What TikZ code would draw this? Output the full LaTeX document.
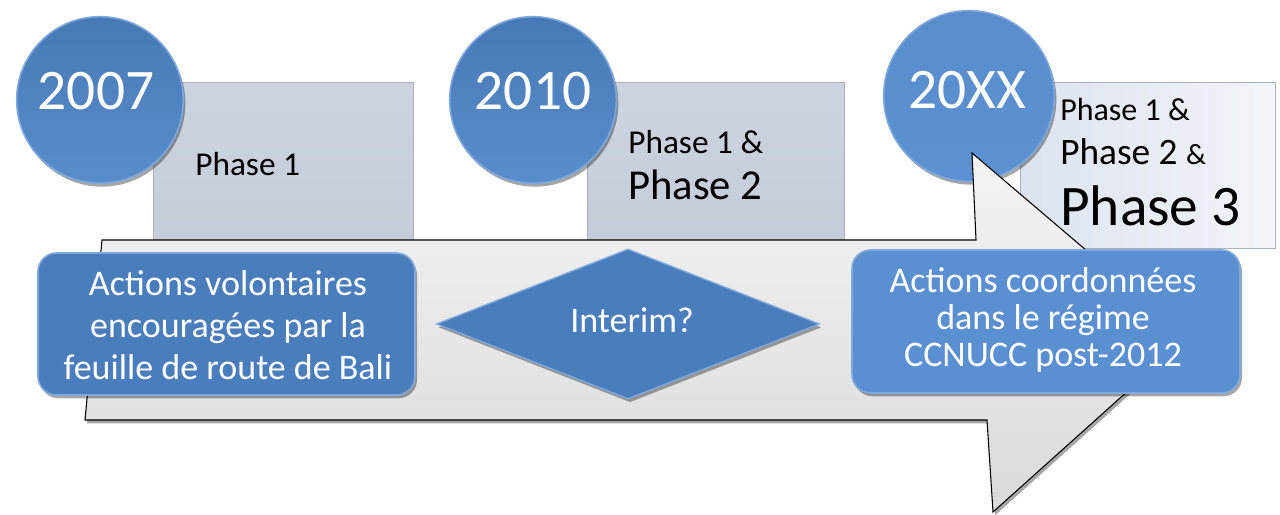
\documentclass[tikz,border=0pt]{standalone}
\usepackage{fontspec}
\setmainfont{Carlito}
\usetikzlibrary{shapes.geometric,shadows,calc}
\definecolor{circA}{HTML}{4779B6}
\definecolor{circB}{HTML}{5A8DCC}
\definecolor{circC}{HTML}{5B91D2}
\definecolor{rimA}{HTML}{7FA9DC}
\definecolor{boxA}{HTML}{C4CCD9}
\definecolor{boxB}{HTML}{CDD4DF}
\definecolor{boxC}{HTML}{DCE3EE}
\definecolor{boxD}{HTML}{F3F5F9}
\definecolor{boxEdge}{HTML}{A9B1BD}
\definecolor{arrA}{HTML}{F4F4F4}
\definecolor{arrB}{HTML}{DADADA}
\definecolor{blueL}{HTML}{4A7DBB}
\definecolor{blueR}{HTML}{5A90D1}
\begin{document}
\begin{tikzpicture}[x=0.75pt,y=-0.75pt,
  shadowed/.style={drop shadow={shadow xshift=1.5pt,shadow yshift=-2.5pt,opacity=0.35,fill=black}},
  phasebox/.style={draw=boxEdge,line width=0.6pt,top color=boxB,bottom color=boxA,inner sep=0pt},
  phaseboxlight/.style={draw=boxEdge,line width=0.6pt,left color=boxC,right color=boxD,inner sep=0pt},
  yearcircle/.style={circle,draw=rimA,line width=1.2pt,top color=circA,bottom color=circB,inner sep=0pt,shadowed},
  yeartext/.style={text=white,font=\fontsize{43}{43}\selectfont,inner sep=0pt},
  phasetext/.style={text=black,inner sep=0pt,anchor=base west},
  bluebox/.style={rounded corners=14pt,draw=rimA,line width=1.2pt,fill=blueL,inner sep=0pt,shadowed},
  bluetext/.style={text=white,align=center,font=\fontsize{27}{31.5}\selectfont,inner sep=0pt},
  arrowshape/.style={draw=black,line width=0.8pt,top color=arrA,bottom color=arrB,shadowed}
]
\useasboundingbox (0,0) rectangle (1280,514);
\fill[white] (0,0) rectangle (1280,514);

% phase boxes (behind)
\node[phasebox,minimum width=195pt,minimum height=127.5pt] (pb1) at (283,167) {};
\node[phasebox,minimum width=192.75pt,minimum height=127.5pt] (pb2) at (715.5,167) {};
\node[phaseboxlight,minimum width=191.25pt,minimum height=124.5pt] (pb3) at (1147.5,165) {};

\node[phasetext,font=\fontsize{25}{25}\selectfont] (p1a) at (195,175) {Phase 1};
\node[phasetext,font=\fontsize{25}{25}\selectfont] (p2a) at (628,153) {Phase 1 \&};
\node[phasetext,font=\fontsize{32}{32}\selectfont] (p2b) at (628,199) {Phase 2};
\node[phasetext,font=\fontsize{24}{24}\selectfont] (p3a) at (1060,120) {Phase 1 \&};
\node[phasetext,font=\fontsize{28}{28}\selectfont] (p3b) at (1060,164) {Phase 2 {\fontsize{22}{22}\selectfont\&}};
\node[phasetext,font=\fontsize{43}{43}\selectfont] (p3c) at (1060,225) {Phase 3};

% year circles
\node[yearcircle,minimum size=125pt] (c1) at (100,100) {};
\node[yeartext] (y1) at (96,91) {2007};
\node[yearcircle,minimum size=125pt] (c2) at (533,100) {};
\node[yeartext] (y2) at (533,91) {2010};
\node[yearcircle,minimum size=128pt,top color=circB,bottom color=circC] (c3) at (969,96) {};
\node[yeartext] (y3) at (967,90) {20XX};

% big arrow
\coordinate (a1) at (102,240);
\coordinate (a2) at (976,240);
\coordinate (a3) at (972,153);
\coordinate (a4) at (1188,337);
\coordinate (a5) at (993,512);
\coordinate (a6) at (987,420);
\coordinate (a7) at (85,420);
\draw[arrowshape] (a1) -- (a2) -- (a3) -- (a4) -- (a5) -- (a6) -- (a7) -- cycle;

% blue shapes
\node[bluebox,minimum width=282.75pt,minimum height=106.5pt] (b1) at (226.5,324) {};
\node[bluetext] (t1) at (228,325) {Actions volontaires\\encouragées par la\\feuille de route de Bali};

\node[diamond,draw=rimA,line width=1pt,fill=blueL,inner sep=0pt,minimum width=287.25pt,minimum height=112.5pt,shadowed] (d1) at (628,324) {};
\node[bluetext] (t2) at (632,320) {Interim?};

\node[bluebox,fill=blueR,minimum width=291pt,minimum height=107.25pt] (b2) at (1046,321.5) {};
\node[bluetext,font=\fontsize{27}{28}\selectfont] (t3) at (1043,320) {Actions coordonnées\\dans le régime\\CCNUCC post-2012};
\end{tikzpicture}
\end{document}
